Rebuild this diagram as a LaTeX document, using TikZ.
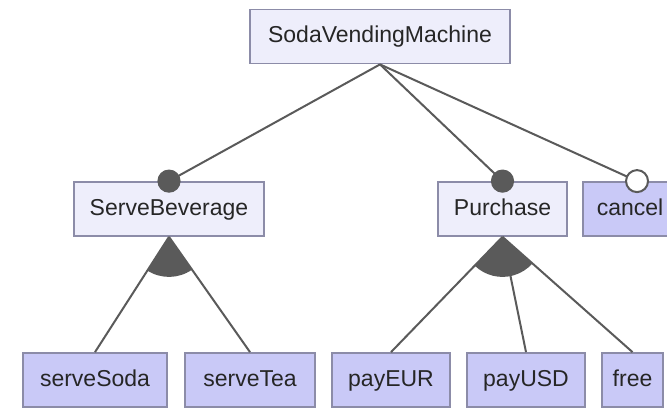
\documentclass[tikz,border=0pt]{standalone}
\usepackage{fontspec}
\setmainfont{Liberation Sans}
\usepackage{xcolor}
\usetikzlibrary{angles}
\definecolor{boxline}{HTML}{8C8CA8}
\definecolor{absfill}{HTML}{EEEEFB}
\definecolor{leaffill}{HTML}{C9C9F7}
\definecolor{linegray}{HTML}{5A5A5A}

\begin{document}
\begin{tikzpicture}[
    x=0.5pt, y=-0.5pt,
    feature/.style={draw=boxline, line width=0.9pt, minimum height=27pt, inner sep=0pt,
        text height=8.4pt, text depth=2.4pt,
        font=\fontsize{11.5}{13}\selectfont, text=black!85},
    abstract/.style={feature, fill=absfill},
    concrete/.style={feature, fill=leaffill},
    featline/.style={draw=linegray, line width=1pt},
    mandatory/.style={fill=linegray, draw=linegray, line width=0.6pt},
    optional/.style={fill=white, draw=linegray, line width=1pt}
]
    \useasboundingbox (0,0) rectangle (667,409);
    \clip (0,0) rectangle (667,409);

    % 特征节点
    \node[abstract, minimum width=130pt] (root) at (380,36.5) {SodaVendingMachine};
    \node[abstract, minimum width=95pt] (sb) at (169,209) {ServeBeverage};
    \node[abstract, minimum width=64.5pt] (pu) at (502.5,209) {Purchase};
    \node[concrete, minimum width=47pt] (ca) at (630,209) {cancel};

    \node[concrete, minimum width=72pt] (ss) at (95,380) {serveSoda};
    \node[concrete, minimum width=65pt] (st) at (250,380) {serveTea};
    \node[concrete, minimum width=59pt] (pe) at (391,380) {payEUR};
    \node[concrete, minimum width=59pt] (pd) at (526,380) {payUSD};
    \node[concrete, minimum width=30.5pt] (fr) at (632.5,380) {free};
    \coordinate (catop) at ([xshift=3.5pt]ca.north);

    % 父子连线
    \foreach \child in {sb.north, pu.north, catop}
        \draw[featline] (root.south) -- (\child);
    \foreach \child in {ss, st}
        \draw[featline] (sb.south) -- (\child.north);
    \foreach \child in {pe, pd, fr}
        \draw[featline] (pu.south) -- (\child.north);

    % 或组扇形
    \coordinate (sbbot) at (sb.south);
    \coordinate (ssup) at (ss.north);
    \coordinate (stup) at (st.north);
    \coordinate (pubot) at (pu.south);
    \coordinate (peup) at (pe.north);
    \coordinate (frup) at (fr.north);
    \pic[fill=linegray, angle radius=20pt] {angle = ssup--sbbot--stup};
    \pic[fill=linegray, angle radius=20pt] {angle = peup--pubot--frup};

    % 必选与可选标记
    \filldraw[mandatory] (sb.north) circle (5.5pt);
    \filldraw[mandatory] (pu.north) circle (5.5pt);
    \filldraw[optional] (catop) circle (5.5pt);
\end{tikzpicture}
\end{document}
